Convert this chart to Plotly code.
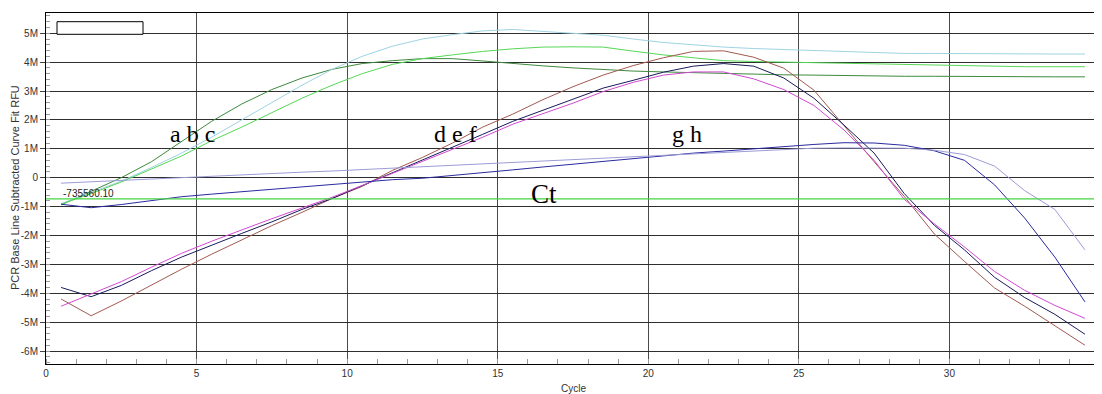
import plotly.graph_objects as go

# ---------------- data ----------------
cycles = [0.5, 1.5, 2.5, 3.5, 4.5, 5.5, 6.5, 7.5, 8.5, 9.5,
          10.5, 11.5, 12.5, 13.5, 14.5, 15.5, 16.5, 17.5, 18.5, 19.5,
          20.5, 21.5, 22.5, 23.5, 24.5, 25.5, 26.5, 27.5, 28.5, 29.5,
          30.5, 31.5, 32.5, 33.5, 34.5]

# values in millions of RFU
a_dark_green = [-0.94, -0.47, 0.0, 0.55, 1.25, 1.95, 2.55, 3.05, 3.45, 3.75,
                3.95, 4.05, 4.12, 4.12, 4.04, 3.95, 3.87, 3.80, 3.74, 3.69,
                3.66, 3.63, 3.60, 3.58, 3.56, 3.55, 3.53, 3.52, 3.51, 3.51,
                3.50, 3.50, 3.49, 3.49, 3.49]
b_light_blue = [-0.90, -0.50, -0.12, 0.35, 0.85, 1.40, 2.00, 2.60, 3.20, 3.75,
                4.20, 4.55, 4.80, 4.95, 5.08, 5.13, 5.07, 5.00, 4.93, 4.80,
                4.68, 4.60, 4.52, 4.47, 4.44, 4.41, 4.37, 4.33, 4.30, 4.30,
                4.29, 4.29, 4.28, 4.28, 4.28]
c_light_green = [-0.92, -0.55, -0.15, 0.30, 0.75, 1.28, 1.75, 2.25, 2.75, 3.20,
                 3.60, 3.92, 4.12, 4.25, 4.37, 4.46, 4.52, 4.53, 4.52, 4.38,
                 4.25, 4.15, 4.05, 4.02, 4.00, 3.98, 3.95, 3.93, 3.90, 3.89,
                 3.86, 3.85, 3.84, 3.84, 3.84]
d_brown = [-4.20, -4.78, -4.27, -3.72, -3.17, -2.65, -2.15, -1.66, -1.20, -0.72,
           -0.30, 0.25, 0.70, 1.20, 1.75, 2.20, 2.70, 3.15, 3.55, 3.88,
           4.15, 4.37, 4.39, 4.17, 3.79, 3.03, 1.80, 0.55, -0.65, -1.95,
           -2.90, -3.82, -4.45, -5.12, -5.80]
e_navy = [-3.80, -4.12, -3.73, -3.22, -2.75, -2.33, -1.93, -1.53, -1.10, -0.72,
          -0.28, 0.18, 0.62, 1.05, 1.50, 1.95, 2.33, 2.70, 3.10, 3.37,
          3.65, 3.86, 3.95, 3.86, 3.45, 2.75, 1.82, 0.85, -0.55, -1.65,
          -2.50, -3.45, -4.15, -4.73, -5.42]
f_magenta = [-4.45, -4.02, -3.60, -3.10, -2.62, -2.20, -1.80, -1.42, -1.05, -0.68,
             -0.27, 0.15, 0.57, 0.97, 1.40, 1.85, 2.22, 2.58, 2.98, 3.30,
             3.55, 3.66, 3.66, 3.42, 3.05, 2.50, 1.65, 0.60, -0.75, -1.60,
             -2.40, -3.25, -3.90, -4.42, -4.87]
g_blue = [-0.92, -1.04, -0.93, -0.80, -0.66, -0.57, -0.49, -0.41, -0.33, -0.25,
          -0.15, -0.07, -0.02, 0.07, 0.17, 0.27, 0.37, 0.47, 0.57, 0.67,
          0.77, 0.85, 0.92, 1.00, 1.07, 1.15, 1.21, 1.20, 1.12, 0.93,
          0.60, -0.25, -1.40, -2.75, -4.30]
h_lavender = [-0.19, -0.14, -0.10, -0.06, -0.01, 0.05, 0.10, 0.15, 0.19, 0.23,
              0.28, 0.33, 0.38, 0.43, 0.48, 0.53, 0.58, 0.63, 0.67, 0.72,
              0.77, 0.82, 0.88, 0.94, 0.99, 1.02, 1.03, 1.03, 1.02, 0.95,
              0.80, 0.40, -0.45, -1.10, -2.50]

threshold = -735560.10

x_ticks = [0, 5, 10, 15, 20, 25, 30, 35]
y_tick_vals = [5e6, 4e6, 3e6, 2e6, 1e6, 0, -1e6, -2e6, -3e6, -4e6, -5e6, -6e6]
y_tick_text = ["5M", "4M", "3M", "2M", "1M", "0", "-1M", "-2M", "-3M", "-4M", "-5M", "-6M"]

series = [
    ("a", a_dark_green, "#3d8a3d"),
    ("b", b_light_blue, "#9fd3e3"),
    ("c", c_light_green, "#55d855"),
    ("d", d_brown, "#a05a50"),
    ("e", e_navy, "#1a1a5a"),
    ("f", f_magenta, "#d24ad2"),
    ("g", g_blue, "#2a2aa0"),
    ("h", h_lavender, "#9c9cd6"),
]

fig = go.Figure()

fig.add_hline(y=threshold, line=dict(color="#44d444", width=1.2), layer="above")

for name, vals, color in series:
    fig.add_trace(go.Scatter(
        x=cycles, y=[v * 1e6 for v in vals], mode="lines", name=name,
        line=dict(color=color, width=1), hoverinfo="skip"))

serif = "Liberation Serif, Times New Roman, serif"
sans = "Liberation Sans, Arial, sans-serif"

labels = [
    ("a b c", 4.85, 1.51e6, 24),
    ("d e f", 13.6, 1.51e6, 24),
    ("g h", 21.3, 1.51e6, 24),
    ("Ct", 16.55, -0.58e6, 27),
]
for txt, xv, yv, sz in labels:
    fig.add_annotation(x=xv, y=yv, text=txt, showarrow=False,
                       xanchor="center", yanchor="middle",
                       font=dict(family=serif, size=sz, color="#000"))

fig.add_annotation(x=0.5, y=threshold + 0.2e6, text=f"{threshold:.2f}", showarrow=False,
                   xanchor="left", yanchor="middle",
                   font=dict(family=sans, size=10, color="#222"))

# plot area: 1054 x 351 px
fig.add_annotation(xref="paper", yref="paper", x=(15 - 46) / 1054, y=(364 - 188) / 351,
                   text="PCR Base Line Subtracted Curve Fit RFU", textangle=-90,
                   showarrow=False, xanchor="center", yanchor="middle",
                   font=dict(family=sans, size=11, color="#333"))

fig.add_annotation(xref="paper", yref="paper", x=(573 - 46) / 1054, y=(364 - 388) / 351,
                   text="Cycle", showarrow=False, xanchor="center", yanchor="middle",
                   font=dict(family=sans, size=10, color="#333"))

# empty legend box in top-left corner
fig.add_shape(type="rect", xref="paper", yref="paper",
              x0=(57 - 46) / 1054, x1=(143 - 46) / 1054,
              y0=(364 - 34.3) / 351, y1=(364 - 21.7) / 351,
              line=dict(color="#000", width=1), fillcolor="white", layer="above")

# the page body adds an 8px offset, so the figure is drawn 8px smaller
fig.update_layout(
    width=1094, height=386,
    margin=dict(l=38, r=2, t=5, b=30, autoexpand=False),
    paper_bgcolor="white", plot_bgcolor="white",
    showlegend=False,
    font=dict(family=sans, size=10, color="#333"),
)

fig.update_xaxes(
    range=[0, 35], tickvals=x_ticks, ticks="", showgrid=True,
    gridcolor="#4a4a4a", gridwidth=1, zeroline=False,
    showline=True, linecolor="#000", linewidth=1, mirror=True,
    tickfont=dict(family=sans, size=10, color="#333"),
    minor=dict(dtick=1, ticks="inside", ticklen=5, tickcolor="#999", showgrid=False),
)
fig.update_yaxes(
    range=[-6.45e6, 5.7e6], tickvals=y_tick_vals, ticktext=y_tick_text,
    ticks="outside", ticklen=5, tickcolor="#444",
    showgrid=True, gridcolor="#2e2e2e", gridwidth=1, zeroline=False,
    showline=True, linecolor="#000", linewidth=1, mirror=True,
    tickfont=dict(family=sans, size=10, color="#333"),
    minor=dict(dtick=2e5, ticks="inside", ticklen=4, tickcolor="#999", showgrid=False),
)

fig.write_html("out.html")
